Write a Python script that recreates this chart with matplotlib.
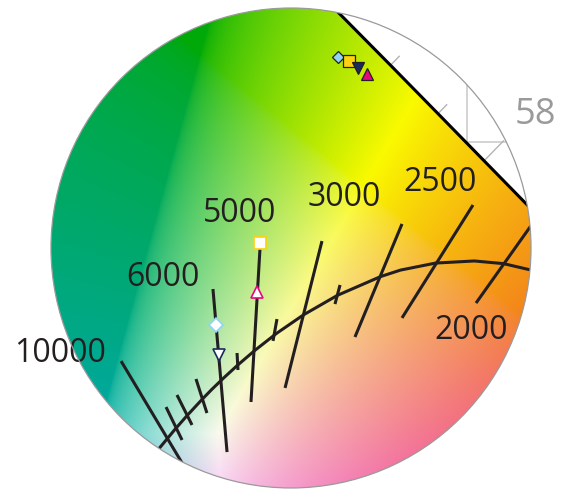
import numpy as np
import matplotlib
matplotlib.use('Agg')
import matplotlib.pyplot as plt
from matplotlib.patches import Ellipse
from matplotlib.path import Path

# CIE 1931 spectral locus near the view (nm -> x, y)
wavelength = [540, 545, 550, 555, 560, 565, 570, 575, 580, 585, 590, 595, 600, 610]
spec_x = [0.2296, 0.2658, 0.3016, 0.3373, 0.3731, 0.4087, 0.4441, 0.4788,
          0.5125, 0.5448, 0.5752, 0.6029, 0.6270, 0.6658]
spec_y = [0.7543, 0.7243, 0.6923, 0.6589, 0.6245, 0.5896, 0.5547, 0.5202,
          0.4866, 0.4544, 0.4242, 0.3965, 0.3725, 0.3340]
tick_nm = [570, 575, 580]

# Planckian locus
cct = [1667, 1800, 2000, 2200, 2500, 2800, 3000, 3500, 4000, 4500, 5000,
       5500, 6000, 6500, 7000, 8000, 9000, 10000, 12000, 15000]
planck_x = [0.5646, 0.5496, 0.5267, 0.5054, 0.4770, 0.4514, 0.4369, 0.4053,
            0.3805, 0.3608, 0.3451, 0.3325, 0.3221, 0.3135, 0.3064, 0.2952,
            0.2869, 0.2807, 0.2719, 0.2637]
planck_y = [0.4029, 0.4081, 0.4133, 0.4152, 0.4137, 0.4087, 0.4041, 0.3907,
            0.3768, 0.3636, 0.3516, 0.3411, 0.3318, 0.3237, 0.3166, 0.3048,
            0.2956, 0.2883, 0.2780, 0.2675]

# isotherm segments (ends)
iso_cct = [10000, 9000, 8000, 7000, 6000, 5500, 5000, 4500, 4000, 3500, 3000, 2500, 2000]
iso_x0 = [0.2471, 0.2800, 0.2880, 0.3019, 0.3143, 0.3319, 0.3487, 0.3611,
          0.3940, 0.4072, 0.4525, 0.5044, 0.5570]
iso_y0 = [0.3439, 0.3111, 0.3197, 0.3311, 0.3952, 0.3496, 0.4244, 0.3738,
          0.4294, 0.3981, 0.4416, 0.4551, 0.4544]
iso_x1 = [0.2961, 0.2917, 0.2990, 0.3099, 0.3246, 0.3326, 0.3421, 0.3582,
          0.3670, 0.4035, 0.4181, 0.4525, 0.5066]
iso_y1 = [0.2641, 0.2876, 0.2983, 0.3068, 0.2790, 0.3375, 0.3147, 0.3582,
          0.3247, 0.3845, 0.3610, 0.3746, 0.3852]

label_text = ['10000', '6000', '5000', '3000', '2500', '2000']
label_x = [0.2025, 0.2778, 0.3341, 0.4100, 0.4803, 0.5029]
label_y = [0.3496, 0.4031, 0.4487, 0.4601, 0.4708, 0.3653]

# measured (filled) and target (hollow) points
mk_shape = ['D', 's', 'v', '^']
mk_color = ['#8fd4f4', '#fdd20e', '#1b2a5c', '#e5087e']
filled_x = [0.4057, 0.4137, 0.4203, 0.4269]
filled_y = [0.5606, 0.5577, 0.5527, 0.5485]
hollow_x = [0.3165, 0.3487, 0.3187, 0.3465]
hollow_y = [0.3696, 0.4280, 0.3482, 0.3931]

grid_x = [0.5]
grid_y = [0.5]

XLIM = (0.15863, 0.57018)
YLIM = (0.24982, 0.60121)

fig = plt.figure(figsize=(5.63, 4.93), dpi=100)
ax = fig.add_axes([0, 0, 1, 1])
ax.set_xlim(*XLIM)
ax.set_ylim(*YLIM)
ax.axis('off')

circle = Ellipse((0.37135, 0.42445), 0.3509, 0.3421, facecolor='none',
                 edgecolor='#9a9a9a', lw=0.9, zorder=10)
ax.add_patch(circle)

# grid lines only show outside the spectral locus
for gx in grid_x:
    ln = ax.axvline(gx, color='#c8c8c8', lw=1.1, zorder=1)
    ln.set_clip_path(circle)
for gy in grid_y:
    ln = ax.axhline(gy, color='#c8c8c8', lw=1.1, zorder=1)
    ln.set_clip_path(circle)

# wavelength ticks
for nm in tick_nm:
    i = wavelength.index(nm)
    d = 0.02 if nm == 580 else 0.009
    ln, = ax.plot([spec_x[i], spec_x[i] + d * 0.707], [spec_y[i], spec_y[i] + d * 0.707],
                  color='#b4b4b4', lw=1.0, zorder=1)
    ln.set_clip_path(circle)

# chromaticity colour field (white moved down, muted like print)
nx, ny = 700, 600
gx_, gy_ = np.meshgrid(np.linspace(*XLIM, nx), np.linspace(*YLIM, ny))
cx = gx_ - 0.005
cy = gy_ + 0.037
XYZ = np.stack([cx / cy, np.ones_like(cx), (1 - cx - cy) / cy])
M = np.array([[3.2406, -1.5372, -0.4986],
              [-0.9689, 1.8758, 0.0415],
              [0.0557, -0.2040, 1.0570]])
rgb = np.einsum('ij,jkl->kli', M, XYZ)
rgb = np.clip(rgb, 0, None)
rgb = rgb / rgb.max(axis=-1, keepdims=True)
rgb = np.where(rgb <= 0.0031308, 12.92 * rgb, 1.055 * rgb ** (1 / 2.4) - 0.055)
r, g = rgb[..., 0].copy(), rgb[..., 1].copy()
rgb = rgb * (0.66 + 0.32 * r)[..., None]
rgb[..., 2] = rgb[..., 2] * 0.95 + 0.05 * rgb[..., 1] * (1 - r) + 0.22 * r * (1 - g)
rgb[..., 0] = rgb[..., 0] - 0.05 * r * (1 - g)
rgb = np.clip(rgb, 0, 1)
poly = list(zip(spec_x, spec_y)) + [(0.8, 0.1), (0.0, 0.1), (0.0, 0.8)]
inside = Path(poly).contains_points(np.c_[gx_.ravel(), gy_.ravel()]).reshape(gx_.shape)
rgba = np.dstack([rgb, inside.astype(float)])
im = ax.imshow(rgba, extent=[*XLIM, *YLIM], origin='lower', aspect='auto',
               interpolation='bilinear', zorder=2)
im.set_clip_path(circle)

ln, = ax.plot(spec_x, spec_y, color='black', lw=2.2, zorder=3)
ln.set_clip_path(circle)
ln, = ax.plot(planck_x, planck_y, color='#231f20', lw=2.2, zorder=4)
ln.set_clip_path(circle)
for x0, y0, x1, y1 in zip(iso_x0, iso_y0, iso_x1, iso_y1):
    ln, = ax.plot([x0, x1], [y0, y1], color='#231f20', lw=2.2, zorder=4,
                  solid_capstyle='butt')
    ln.set_clip_path(circle)

for t, x, y in zip(label_text, label_x, label_y):
    ax.text(x, y, t, fontsize=23, family='Open Sans', color='#231f20',
            ha='center', va='center', zorder=6)
ax.text(0.5351, 0.5192, '58', fontsize=26, family='Open Sans', color='#9a9a9a',
        ha='left', va='center', zorder=6)

filled_ms = [6.6, 8.0, 8.6, 8.6]
hollow_ms = [7.5, 8.4, 8.6, 9.0]
for i in range(4):
    ax.plot(filled_x[i], filled_y[i], mk_shape[i], ms=filled_ms[i],
            mfc=mk_color[i], mec='#231f20', mew=0.9, zorder=7)
    ax.plot(hollow_x[i], hollow_y[i], mk_shape[i], ms=hollow_ms[i],
            mfc='white', mec=mk_color[i], mew=1.2, zorder=7)

plt.savefig('out.png', dpi=100)
plt.close()
